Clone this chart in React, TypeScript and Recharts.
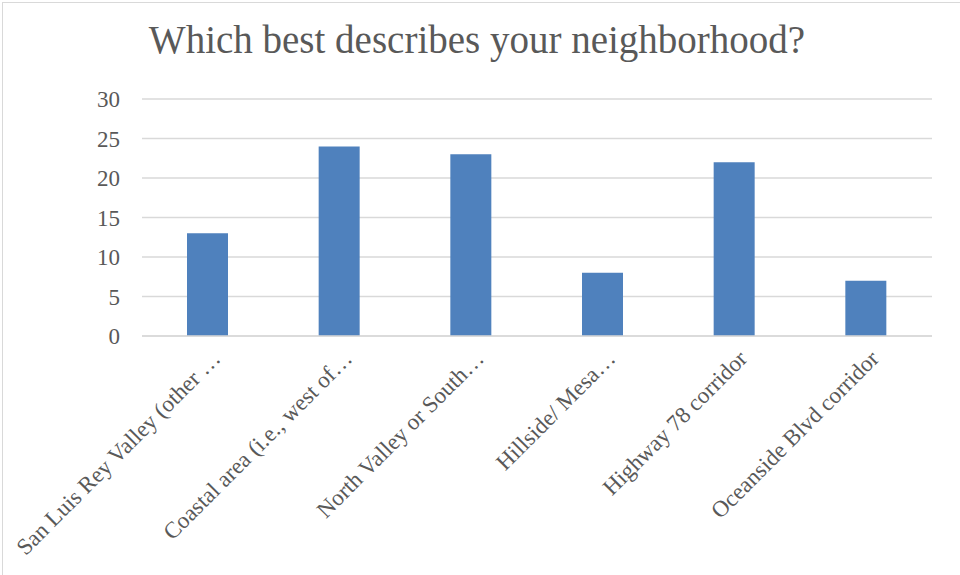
import React from 'react';
import { BarChart, Bar, XAxis, YAxis, CartesianGrid } from 'recharts';

const categories = [
  'San Luis Rey Valley (other …',
  'Coastal area (i.e., west of…',
  'North Valley or South…',
  'Hillside/ Mesa…',
  'Highway 78 corridor',
  'Oceanside Blvd corridor',
];
const counts = [13, 24, 23, 8, 22, 7];
const yTicks = [0, 5, 10, 15, 20, 25, 30];

const TITLE = 'Which best describes your neighborhood?';
const FONT = '"Liberation Serif", "DejaVu Serif", serif';
const TEXT_COLOR = '#595959';
const GRID_COLOR = '#d9d9d9';
const BAR_COLOR = '#4f81bd';

const data = categories.map((name, i) => ({ name, value: counts[i] }));

const SlantedTick = ({ x, y, payload }: any) => (
  <g transform={`translate(${x + 14},${y + 16})`}>
    <text
      transform="rotate(-45)"
      textAnchor="end"
      fill={TEXT_COLOR}
      fontSize={23}
      fontFamily={FONT}
    >
      {payload.value}
    </text>
  </g>
);

export default function App() {
  return (
    <div
      style={{
        position: 'absolute',
        left: 0,
        top: 0,
        width: 960,
        height: 575,
        background: '#fff',
        overflow: 'hidden',
      }}
    >
      <div
        style={{
          position: 'absolute',
          left: 2,
          top: 2,
          width: 980,
          height: 600,
          borderLeft: `1.5px solid ${GRID_COLOR}`,
          borderTop: `1.5px solid ${GRID_COLOR}`,
        }}
      />
      <div
        style={{
          position: 'absolute',
          left: 0,
          top: 17,
          width: 954,
          textAlign: 'center',
          fontFamily: FONT,
          fontSize: 39,
          color: TEXT_COLOR,
        }}
      >
        {TITLE}
      </div>
      <BarChart
        width={960}
        height={575}
        data={data}
        margin={{ top: 99, right: 28, left: 0, bottom: 0 }}
      >
        <CartesianGrid vertical={false} stroke={GRID_COLOR} strokeWidth={1.5} />
        <XAxis
          dataKey="name"
          height={239}
          axisLine={{ stroke: GRID_COLOR, strokeWidth: 1.5 }}
          tickLine={false}
          interval={0}
          tick={<SlantedTick />}
        />
        <YAxis
          width={142}
          domain={[0, 30]}
          ticks={yTicks}
          axisLine={false}
          tickLine={false}
          tickMargin={16}
          tick={{ fill: TEXT_COLOR, fontSize: 23, fontFamily: FONT }}
        />
        <Bar dataKey="value" fill={BAR_COLOR} barSize={41} isAnimationActive={false} />
      </BarChart>
    </div>
  );
}
